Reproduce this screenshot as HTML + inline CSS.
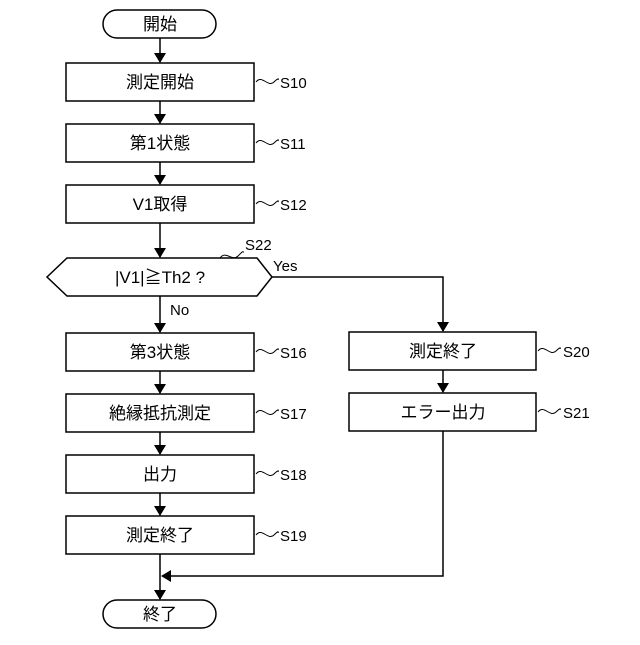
<!DOCTYPE html>
<html><head><meta charset="utf-8"><style>
html,body{margin:0;padding:0;background:#fff;}
text{font-family:"Liberation Sans","Noto Sans CJK JP",sans-serif;fill:#000;}
</style></head><body>
<svg width="640" height="640" viewBox="0 0 640 640" xmlns="http://www.w3.org/2000/svg">
<defs><marker id="a" markerWidth="10" markerHeight="12" refX="9" refY="6" orient="auto" markerUnits="userSpaceOnUse"><path d="M0,0 L10,6 L0,12 z" fill="#000"/></marker></defs>
<g fill="none" stroke="#000" stroke-width="1.5">
<rect x="103" y="10" width="113" height="28" rx="14"/>
<rect x="66" y="63" width="188" height="38"/>
<rect x="66" y="124" width="188" height="38"/>
<rect x="66" y="185" width="188" height="38"/>
<polygon points="47,277 67,258 257,258 272,277 257,296 67,296"/>
<rect x="66" y="333" width="188" height="38"/>
<rect x="66" y="394" width="188" height="38"/>
<rect x="66" y="455" width="188" height="38"/>
<rect x="66" y="516" width="188" height="38"/>
<rect x="103" y="600" width="113" height="28" rx="14"/>
<rect x="349" y="332" width="187" height="38"/>
<rect x="349" y="393" width="187" height="38"/>
<line x1="160" y1="38" x2="160" y2="62" marker-end="url(#a)"/>
<line x1="160" y1="101" x2="160" y2="123" marker-end="url(#a)"/>
<line x1="160" y1="162" x2="160" y2="184" marker-end="url(#a)"/>
<line x1="160" y1="223" x2="160" y2="257" marker-end="url(#a)"/>
<line x1="160" y1="296" x2="160" y2="332" marker-end="url(#a)"/>
<line x1="160" y1="371" x2="160" y2="393" marker-end="url(#a)"/>
<line x1="160" y1="432" x2="160" y2="454" marker-end="url(#a)"/>
<line x1="160" y1="493" x2="160" y2="515" marker-end="url(#a)"/>
<line x1="160" y1="554" x2="160" y2="599" marker-end="url(#a)"/>
<polyline points="272,277 443,277 443,331" marker-end="url(#a)"/>
<line x1="443" y1="370" x2="443" y2="392" marker-end="url(#a)"/>
<polyline points="443,431 443,576 162,576" marker-end="url(#a)"/>
<g stroke-width="1">
<path d="M256,82 c6,-8 12,6 18,0 s4,-2 4,-2"/>
<path d="M256,143 c6,-8 12,6 18,0 s4,-2 4,-2"/>
<path d="M256,204 c6,-8 12,6 18,0 s4,-2 4,-2"/>
<path d="M256,352 c6,-8 12,6 18,0 s4,-2 4,-2"/>
<path d="M256,413 c6,-8 12,6 18,0 s4,-2 4,-2"/>
<path d="M256,474 c6,-8 12,6 18,0 s4,-2 4,-2"/>
<path d="M256,535 c6,-8 12,6 18,0 s4,-2 4,-2"/>
<path d="M538,351 c6,-8 12,6 18,0 s4,-2 4,-2"/>
<path d="M538,412 c6,-8 12,6 18,0 s4,-2 4,-2"/>
<path d="M220,258 c6,-8 12,4 18,-2 s4,-4 6,-4"/>
</g>
</g>
<g font-size="17" text-anchor="middle">
<text x="160" y="30">開始</text>
<text x="160" y="88">測定開始</text>
<text x="160" y="149">第1状態</text>
<text x="160" y="210">V1取得</text>
<text x="160" y="283">|V1|≧Th2 ?</text>
<text x="160" y="358">第3状態</text>
<text x="160" y="419">絶縁抵抗測定</text>
<text x="160" y="480">出力</text>
<text x="160" y="541">測定終了</text>
<text x="160" y="620">終了</text>
<text x="443" y="357">測定終了</text>
<text x="443" y="418">エラー出力</text>
</g>
<g font-size="15">
<text x="280" y="88">S10</text>
<text x="280" y="149">S11</text>
<text x="280" y="210">S12</text>
<text x="280" y="358">S16</text>
<text x="280" y="419">S17</text>
<text x="280" y="480">S18</text>
<text x="280" y="541">S19</text>
<text x="563" y="357">S20</text>
<text x="563" y="418">S21</text>
<text x="245" y="250">S22</text>
<text x="273" y="271">Yes</text>
<text x="170" y="315">No</text>
</g>
</svg>
</body></html>
